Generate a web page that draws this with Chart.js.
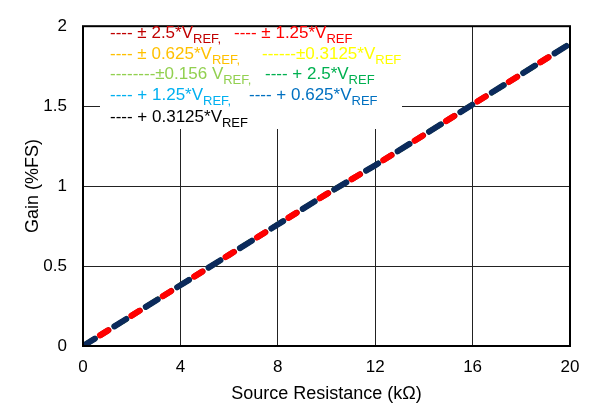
<!DOCTYPE html>
<html>
<head>
<meta charset="UTF-8">
<title>Gain vs Source Resistance</title>
<script src="https://cdn.jsdelivr.net/npm/chart.js"></script>
<style>
  html, body { margin: 0; padding: 0; background: #fff; }
  #wrap { width: 592px; height: 409px; }
</style>
</head>
<body>
<div id="wrap"><canvas id="gainChart" width="592" height="409"></canvas></div>
<script>
// source resistance (kOhm) and gain (%FS)
const resistance = [0, 2, 4, 6, 8, 10, 12, 14, 16, 18, 20];
const gainValues = [0, 0.19, 0.38, 0.57, 0.76, 0.95, 1.13, 1.32, 1.51, 1.70, 1.89];

const xTicks = [0, 4, 8, 12, 16, 20];
const yTicks = [0, 0.5, 1, 1.5, 2];

// legend text, "_" marks where the subscript starts
const seriesLabels = [
  '---- \u00b1 2.5*V_REF,', '---- \u00b1 1.25*V_REF',
  '---- \u00b1 0.625*V_REF,', '------\u00b10.3125*V_REF',
  '--------\u00b10.156 V_REF,', '---- + 2.5*V_REF',
  '---- + 1.25*V_REF,', '---- + 0.625*V_REF',
  '---- + 0.3125*V_REF'
];
const seriesColors = ['#c00000', '#ff0000', '#ffc000', '#ffff00', '#92d050',
                      '#00b050', '#00b0f0', '#0070c0', '#000000'];
// the last series shows up as dark navy in the plot
const lineColors = ['#c00000', '#ff0000', '#ffc000', '#ffff00', '#92d050',
                    '#00b050', '#00b0f0', '#0070c0', '#0b2a5c'];

// where each legend entry sits (left x, baseline y)
const legendPos = [
  [110, 38], [234, 38],
  [110, 59], [262, 59],
  [110, 79], [265, 79],
  [110, 100], [249, 100],
  [110, 122]
];

const FONT = '"Liberation Sans", Arial, sans-serif';

const datasets = seriesLabels.map((lbl, i) => {
  // most series sit right under the navy dashes
  let order = 10 + i;
  let width = 5;
  let dash = [14, 23];
  let offset = 0;
  if (i === 8) { order = 0; width = 6; }
  if (i === 1) { order = 1; width = 6; dash = [9, 28]; offset = 17; }
  if (i === 0) { order = 2; width = 6; dash = [9, 28]; offset = 16; }
  return {
    label: lbl.replace('_', ''),
    data: resistance.map((r, k) => ({ x: r, y: gainValues[k] })),
    borderColor: lineColors[i],
    borderWidth: width,
    borderDash: dash,
    borderDashOffset: offset,
    borderCapStyle: 'round',
    pointRadius: 0,
    fill: false,
    tension: 0,
    order: order
  };
});

const legendBox = {
  id: 'legendBox',
  beforeDatasetsDraw(chart) {
    const c = chart.ctx;
    c.save();
    c.fillStyle = '#ffffff';
    c.fillRect(100, 15, 302, 114);
    c.restore();
  },
  afterDraw(chart) {
    const c = chart.ctx;
    const a = chart.chartArea;
    c.save();
    // frame
    c.strokeStyle = '#000';
    c.lineWidth = 2;
    c.strokeRect(a.left, a.top, a.right - a.left, a.bottom - a.top);
    // legend text
    c.textBaseline = 'alphabetic';
    c.textAlign = 'left';
    seriesLabels.forEach((lbl, i) => {
      const parts = lbl.split('_');
      const [x, y] = legendPos[i];
      c.fillStyle = seriesColors[i];
      c.font = '17px ' + FONT;
      c.fillText(parts[0], x, y);
      const w = c.measureText(parts[0]).width;
      c.font = '13px ' + FONT;
      c.fillText(parts[1], x + w, y + 5);
    });
    c.restore();
  }
};

new Chart(document.getElementById('gainChart'), {
  type: 'line',
  data: { datasets: datasets },
  options: {
    responsive: false,
    animation: false,
    layout: { padding: { left: 18, right: 22, top: 13, bottom: 0 } },
    plugins: { legend: { display: false }, tooltip: { enabled: false } },
    scales: {
      x: {
        type: 'linear',
        min: 0, max: 20,
        afterBuildTicks: s => { s.ticks = xTicks.map(v => ({ value: v })); },
        afterFit: s => { s.height = 63; },
        grid: { color: '#222', lineWidth: 1, drawTicks: false },
        border: { display: false },
        ticks: { color: '#000', padding: 11, font: { family: FONT, size: 17 }, maxRotation: 0,
                 callback: v => String(v) },
        title: { display: true, text: 'Source Resistance (k\u03a9)', color: '#000',
                 font: { family: FONT, size: 18 }, padding: { top: 2 } }
      },
      y: {
        min: 0, max: 2,
        afterBuildTicks: s => { s.ticks = yTicks.map(v => ({ value: v })); },
        afterFit: s => { s.width = 65; },
        grid: { color: '#222', lineWidth: 1, drawTicks: false },
        border: { display: false },
        ticks: { color: '#000', padding: 16, font: { family: FONT, size: 17 },
                 callback: v => String(v) },
        title: { display: true, text: 'Gain (%FS)', color: '#000',
                 font: { family: FONT, size: 18 }, padding: { bottom: 0 } }
      }
    }
  },
  plugins: [legendBox]
});
</script>
</body>
</html>
